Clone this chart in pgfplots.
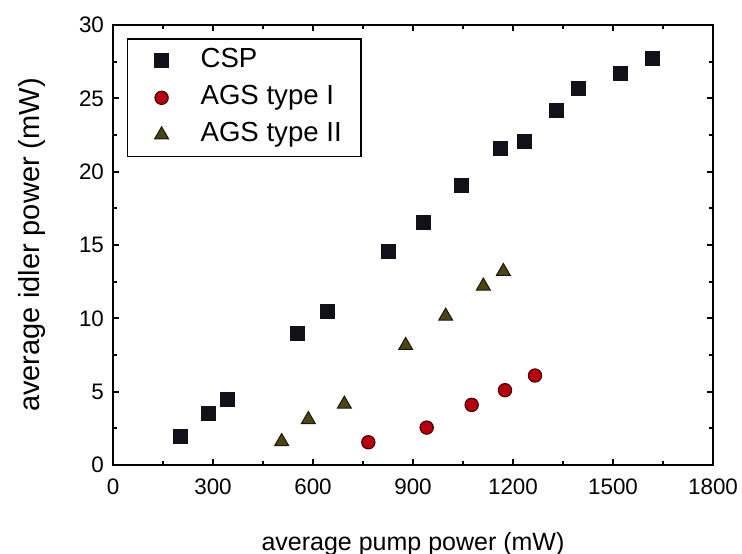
\documentclass[border=0pt]{standalone}
\usepackage{fontspec}
\setmainfont{Liberation Sans}
\usepackage{pgfplots}
\pgfplotsset{compat=1.18}
\usetikzlibrary{calc}
\definecolor{CspBlack}{HTML}{111118}
\definecolor{AgsRed}{HTML}{B5000F}
\definecolor{AgsRedEdge}{HTML}{4A0000}
\definecolor{AgsOlive}{HTML}{4A4418}
\definecolor{AgsOliveEdge}{HTML}{1A1705}

\begin{document}
\begin{tikzpicture}
  \begin{axis}[
    name=ax,
    scale only axis,
    width=300pt,height=220pt,
    xmin=0,xmax=1800,ymin=0,ymax=30,
    xtick={0,300,...,1800},
    ytick={0,5,...,30},
    minor x tick num=1,
    minor y tick num=1,
    tick align=inside,
    major tick length=3pt,
    minor tick length=1.8pt,
    axis line style={line width=1pt},
    every tick/.style={line width=0.9pt,black},
    /pgf/number format/assume math mode=true,
    /pgf/number format/1000 sep={},
    tick label style={font=\fontsize{11.2}{13}\selectfont},
    xticklabel style={yshift=-3.5pt},
    yticklabel style={xshift=-1pt},
    xlabel={average pump power (mW)},
    ylabel={average idler power (mW)},
    xlabel style={font=\fontsize{12.5}{15}\selectfont,at={(axis description cs:0.5,-0.18)},anchor=center},
    ylabel style={font=\fontsize{14.5}{17}\selectfont,at={(axis description cs:-0.135,0.5)},anchor=center},
    legend cell align=left,
    legend style={
      at={(axis description cs:0.023,0.97)},anchor=north west,
      draw=black,line width=0.8pt,
      font=\fontsize{13.8}{16}\selectfont,
      inner xsep=4pt,inner ysep=2.5pt,
      row sep=1.7pt,
      column sep=6.5pt,
      nodes={inner xsep=0pt,inner ysep=2pt,text height=9.8pt,text depth=3pt},
    },
    legend image code/.code={
      \path[draw=none,fill=none] (0pt,-1pt) rectangle (26pt,1pt);
      \draw plot coordinates {(13pt,0pt)};
    },
  ]
    \addplot[only marks,mark=square*,mark size=3.5pt,
             mark options={fill=CspBlack,draw=CspBlack,line width=0.3pt}]
      coordinates {
        (202,1.95)(286,3.5)(342,4.5)(553,9.0)(642,10.5)
        (826,14.55)(931,16.55)(1045,19.1)(1161,21.6)(1235,22.1)
        (1331,24.15)(1397,25.65)(1521,26.7)(1617,27.7)
      };
    \addlegendentry{CSP}
    \addplot[only marks,mark=*,mark size=3.3pt,
             mark options={fill=AgsRed,draw=AgsRedEdge,line width=0.6pt}]
      coordinates {
        (766,1.55)(941,2.55)(1076,4.1)(1176,5.1)(1266,6.1)
      };
    \addlegendentry{AGS type I}
    \addplot[only marks,mark=triangle*,mark size=4pt,
             mark options={fill=AgsOlive,draw=AgsOliveEdge,line width=0.5pt}]
      coordinates {
        (506,1.6)(586,3.1)(694,4.15)(878,8.15)(998,10.15)
        (1111,12.2)(1171,13.2)
      };
    \addlegendentry{AGS type II\hspace*{5.5pt}}
  \end{axis}
  \pgfresetboundingbox
  \path ($(ax.south west)+(-56.5pt,-44.5pt)$) rectangle ($(ax.north east)+(14.5pt,12.5pt)$);
\end{tikzpicture}
\end{document}
